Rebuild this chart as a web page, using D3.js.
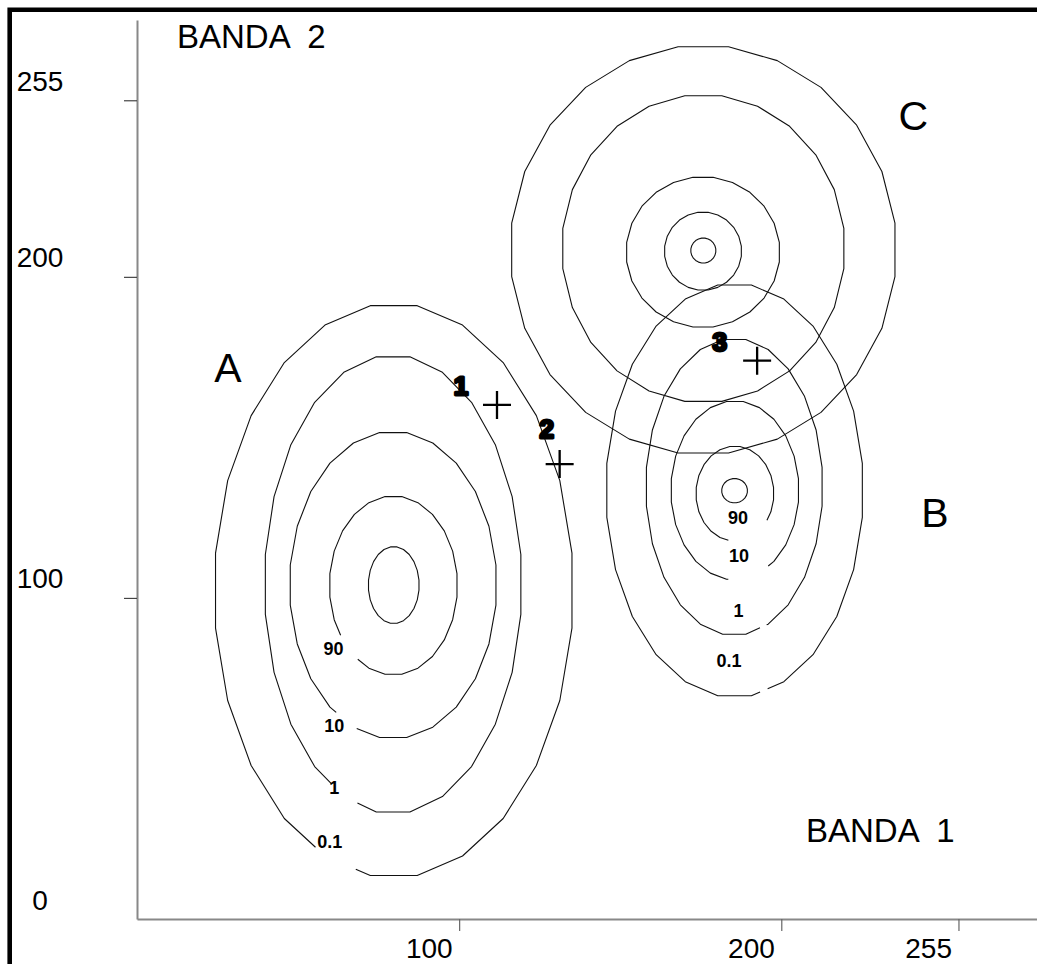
<!DOCTYPE html>
<html>
<head>
<meta charset="utf-8">
<script src="https://cdn.jsdelivr.net/npm/d3@7"></script>
<style>
  html, body { margin: 0; padding: 0; background: #fff; }
  svg { display: block; font-family: "Liberation Sans", Arial, Helvetica, sans-serif; }
</style>
</head>
<body>
<svg id="chart" width="1037" height="964"></svg>
<script>
// ---- Data -------------------------------------------------------------
// Axis ticks (band digital numbers)
const xTickValues = [100, 200, 255];
const yTickValues = [0, 100, 200, 255];

// Probability contour levels (%), outer ring first; the innermost ring has no label
const contourLevels = ["0.1", "1", "10", "90", ""];

// Class A: equiprobability ellipses, outer -> inner (band 1 / band 2 units)
const aCenterBand1 = [79.7, 79.5, 79.5, 79.6, 79.7];
const aCenterBand2 = [102.3, 104.2, 104.0, 103.9, 104.0];
const aRadiusBand1 = [55.8, 40.0, 32.2, 19.9, 7.9];
const aRadiusBand2 = [89.5, 71.5, 47.9, 27.9, 12.0];

// Class B
const bCenterBand1 = [185.5, 185.4, 185.6, 185.6, 185.5];
const bCenterBand2 = [133.5, 134.6, 133.5, 132.5, 133.4];
const bRadiusBand1 = [40.0, 27.5, 19.9, 12.1, 4.0];
const bRadiusBand2 = [64.5, 46.3, 27.9, 14.8, 3.8];

// Class C
const cCenterBand1 = [175.8, 175.8, 175.7, 175.7, 175.8];
const cCenterBand2 = [208.4, 208.8, 207.7, 208.0, 208.2];
const cRadiusBand1 = [60.0, 44.0, 23.9, 12.0, 3.9];
const cRadiusBand2 = [63.8, 48.0, 23.5, 12.2, 3.9];

// Unclassified pixels
const pixelIds = ["1", "2", "3"];
const pixelBand1 = [111.75, 131.2, 192.5];
const pixelBand2 = [160.1, 141.7, 173.9];

// ---- Layout -----------------------------------------------------------
const W = 1037, H = 964;
const x = d3.scaleLinear().domain([0, 280]).range([137, 1039]);
const y = d3.scaleLinear().domain([0, 280]).range([919, 20]);

// Openings left in the rings for their level labels (degrees, counter-clockwise)
const aGaps = [[244, 257.7], [241.2, 253.8], [236.5, 249.4], [214, 236], null];
const bGaps = [[281.5, 285], [287, 291.5], [264.1, 301.6], [260.3, 325.8], null];
const cGaps = [null, null, null, null, null];

// Level label anchors (band units)
const aLabelBand1 = [59.8, 61.2, 61.2, 61.0];
const aLabelBand2 = [24.1, 41.0, 60.3, 84.3];
const bLabelBand1 = [183.8, 186.7, 186.9, 186.6];
const bLabelBand2 = [80.4, 96.2, 113.1, 124.9];

// Pixel number offsets from their crosses (px)
const pixelLabelDx = [-36, -13, -37.5];
const pixelLabelDy = [-10, -26, -9.5];

// Class names and anchors (band units)
const classNames = ["A", "B", "C"];
const classBand1 = [28.2, 247.7, 241.0];
const classBand2 = [167.3, 122.1, 245.7];

const FONT_AXIS = 28;
const svg = d3.select("#chart");

// Outer frame (top and left edges)
svg.append("path")
  .attr("d", `M${W + 5},9.7 H9.7 V${H + 5}`)
  .attr("fill", "none")
  .attr("stroke", "#000")
  .attr("stroke-width", 4.6);

// ---- Axes -------------------------------------------------------------
const yAxis = svg.append("g")
  .attr("transform", `translate(${x(0)},0)`)
  .call(d3.axisLeft(y).tickValues(yTickValues).tickSize(13).tickSizeOuter(0).tickFormat(d3.format("d")));
yAxis.select(".domain").attr("stroke", "#888").attr("stroke-width", 2);
yAxis.selectAll(".tick line").attr("stroke", "#444").attr("stroke-width", 1.2);
yAxis.selectAll(".tick").filter(d => d === 0).select("line").remove();
yAxis.selectAll(".tick text")
  .attr("x", 40 - x(0))
  .attr("y", -10)
  .attr("dy", null)
  .attr("text-anchor", "middle")
  .attr("fill", "#000")
  .style("font-size", FONT_AXIS + "px")
  .style("font-family", "'Liberation Sans', Arial, sans-serif");

const xAxis = svg.append("g")
  .attr("transform", `translate(0,${y(0)})`)
  .call(d3.axisBottom(x).tickValues(xTickValues).tickSize(12).tickSizeOuter(0).tickFormat(d3.format("d")));
xAxis.select(".domain").attr("stroke", "#888").attr("stroke-width", 2);
xAxis.selectAll(".tick line").attr("stroke", "#666").attr("stroke-width", 1.2);
xAxis.selectAll(".tick text")
  .attr("x", -7)
  .attr("y", 39)
  .attr("dy", null)
  .attr("text-anchor", "end")
  .attr("fill", "#000")
  .style("font-size", FONT_AXIS + "px")
  .style("font-family", "'Liberation Sans', Arial, sans-serif");

// Axis titles
svg.append("text").attr("x", 177).attr("y", 48)
  .style("font-size", "33px").attr("xml:space", "preserve").text("BANDA  2");
svg.append("text").attr("x", 806).attr("y", 842)
  .style("font-size", "33px").attr("xml:space", "preserve").text("BANDA  1");

// ---- Contour rings ----------------------------------------------------
const N = 24;                       // polygon vertices per ring
const step = 360 / N;
const rad = a => a * Math.PI / 180;

// point on the polygonal ring at angle a (degrees)
function ringPoint(cx, cy, rx, ry, a) {
  const t = ((a - step / 2) % 360 + 360) % 360;
  const k = Math.floor(t / step);
  const f = (t - k * step) / step;
  const a0 = rad((k + 0.5) * step), a1 = rad((k + 1.5) * step);
  const p0 = [cx + rx * Math.cos(a0), cy + ry * Math.sin(a0)];
  const p1 = [cx + rx * Math.cos(a1), cy + ry * Math.sin(a1)];
  return [p0[0] + (p1[0] - p0[0]) * f, p0[1] + (p1[1] - p0[1]) * f];
}

function ringPath(cx, cy, rx, ry, gap) {
  const vertex = k => {
    const a = rad((k + 0.5) * step);
    return [cx + rx * Math.cos(a), cy + ry * Math.sin(a)];
  };
  if (!gap) {
    return d3.line().x(d => x(d[0])).y(d => y(d[1])).curve(d3.curveLinearClosed)(d3.range(N).map(vertex));
  }
  const start = gap[1], end = gap[0] + 360;
  const pts = [ringPoint(cx, cy, rx, ry, start)];
  for (let k = 0; k < 2 * N; k++) {
    const a = (k + 0.5) * step;
    if (a > start && a < end) pts.push(vertex(k % N));
  }
  pts.push(ringPoint(cx, cy, rx, ry, end));
  return d3.line().x(d => x(d[0])).y(d => y(d[1]))(pts);
}

const classes = [
  { c1: aCenterBand1, c2: aCenterBand2, r1: aRadiusBand1, r2: aRadiusBand2, gaps: aGaps },
  { c1: bCenterBand1, c2: bCenterBand2, r1: bRadiusBand1, r2: bRadiusBand2, gaps: bGaps },
  { c1: cCenterBand1, c2: cCenterBand2, r1: cRadiusBand1, r2: cRadiusBand2, gaps: cGaps }
];

const rings = svg.append("g")
  .attr("fill", "none")
  .attr("stroke", "#111")
  .attr("stroke-width", 1.1)
  .attr("stroke-linejoin", "round");

classes.forEach(cl => {
  contourLevels.forEach((lev, i) => {
    rings.append("path")
      .attr("d", ringPath(cl.c1[i], cl.c2[i], cl.r1[i], cl.r2[i], cl.gaps[i]));
  });
});

// Level labels on classes A and B
const levelLabels = svg.append("g")
  .attr("text-anchor", "middle")
  .style("font-size", "18px")
  .style("font-weight", "bold");
[[aLabelBand1, aLabelBand2], [bLabelBand1, bLabelBand2]].forEach(([l1, l2]) => {
  contourLevels.slice(0, 4).forEach((lev, i) => {
    levelLabels.append("text")
      .attr("x", x(l1[i]))
      .attr("y", y(l2[i]) + 6.5)
      .text(lev);
  });
});

// ---- Pixels -----------------------------------------------------------
const px = svg.append("g");
pixelIds.forEach((id, i) => {
  const cx = x(pixelBand1[i]), cy = y(pixelBand2[i]);
  px.append("path")
    .attr("d", `M${cx - 14},${cy}H${cx + 14}M${cx},${cy - 14}V${cy + 14}`)
    .attr("stroke", "#000")
    .attr("stroke-width", 2.3);
  px.append("text")
    .attr("x", cx + pixelLabelDx[i])
    .attr("y", cy + pixelLabelDy[i])
    .attr("text-anchor", "middle")
    .style("font-size", "26px")
    .style("font-weight", "bold")
    .attr("stroke", "#000")
    .attr("stroke-width", 3)
    .attr("stroke-linejoin", "round")
    .text(id);
});

// ---- Class names ------------------------------------------------------
classNames.forEach((n, i) => {
  svg.append("text")
    .attr("x", x(classBand1[i]))
    .attr("y", y(classBand2[i]))
    .attr("text-anchor", "middle")
    .style("font-size", "41px")
    .text(n);
});
</script>
</body>
</html>
